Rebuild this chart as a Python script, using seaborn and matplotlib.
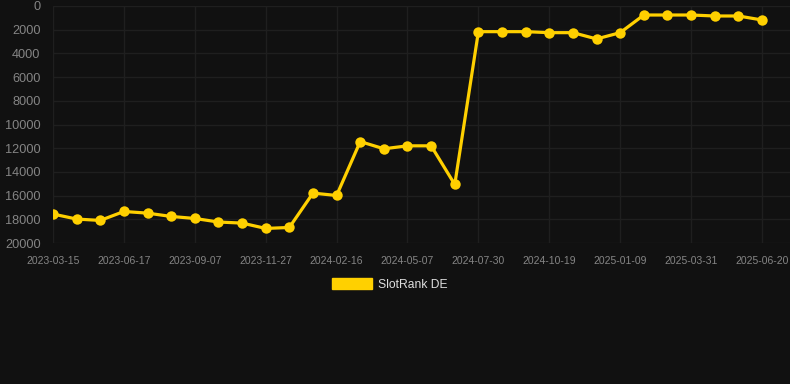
import matplotlib
matplotlib.use("Agg")
import matplotlib.pyplot as plt
import seaborn as sns
import pandas as pd
from matplotlib.patches import Patch

# Data (rank values; y axis inverted)
rank_values = [17556, 17980, 18095, 17340, 17480, 17760, 17930, 18230, 18320,
               18770, 18690, 15790, 15990, 11440, 12050, 11800, 11800, 15060,
               2165, 2165, 2165, 2250, 2250, 2780, 2250, 760, 760, 760, 843,
               843, 1180]
tick_labels = ["2023-03-15", "2023-06-17", "2023-09-07", "2023-11-27",
               "2024-02-16", "2024-05-07", "2024-07-30", "2024-10-19",
               "2025-01-09", "2025-03-31", "2025-06-20"]
y_ticks = [0, 2000, 4000, 6000, 8000, 10000, 12000, 14000, 16000, 18000, 20000]
series_name = "SlotRank DE"

BG = "#111111"
GRID = "#1f1f1f"
LINE = "#FFD000"

df = pd.DataFrame({"idx": range(len(rank_values)), "rank": rank_values})

sns.set_style("dark")
plt.rcParams['font.family'] = ['Liberation Sans', 'DejaVu Sans']

fig = plt.figure(figsize=(7.9, 3.84), dpi=100, facecolor=BG)
ax = fig.add_axes([53/790, 1 - 243/384, 1 - 53/790, (243 - 6)/384])
ax.set_facecolor(BG)

sns.lineplot(data=df, x="idx", y="rank", ax=ax, color=LINE, linewidth=2.3,
             marker="o", markersize=7.5, markeredgewidth=0, legend=False)

ax.set_xlim(0, 30 + 28/23.63)
ax.set_ylim(20000, 0)
ax.set_yticks(y_ticks)
ax.set_yticklabels([str(v) for v in y_ticks])
tick_pos = list(range(0, len(rank_values), 3))
ax.set_xticks(tick_pos)
ax.set_xticklabels(tick_labels)

ax.grid(True, color=GRID, linewidth=1)
ax.set_axisbelow(True)
for s in ax.spines.values():
    s.set_visible(False)
ax.tick_params(axis="y", colors=GRID, labelcolor="#858585", labelsize=9.2,
               length=7, width=1, pad=2)
ax.tick_params(axis="x", colors=GRID, labelcolor="#858585", labelsize=7.5,
               length=7, width=1, pad=2)
ax.set_xlabel("")
ax.set_ylabel("")

handle = Patch(facecolor=LINE, edgecolor=LINE, label=series_name)
leg = fig.legend(handles=[handle], loc="center", bbox_to_anchor=(389.5/790, 1 - 284.5/384),
                 frameon=False, handlelength=3.3, handleheight=1.0,
                 handletextpad=0.5, fontsize=8.7)
for t in leg.get_texts():
    t.set_color("#dddddd")

fig.savefig("out.png", dpi=100, facecolor=BG)
